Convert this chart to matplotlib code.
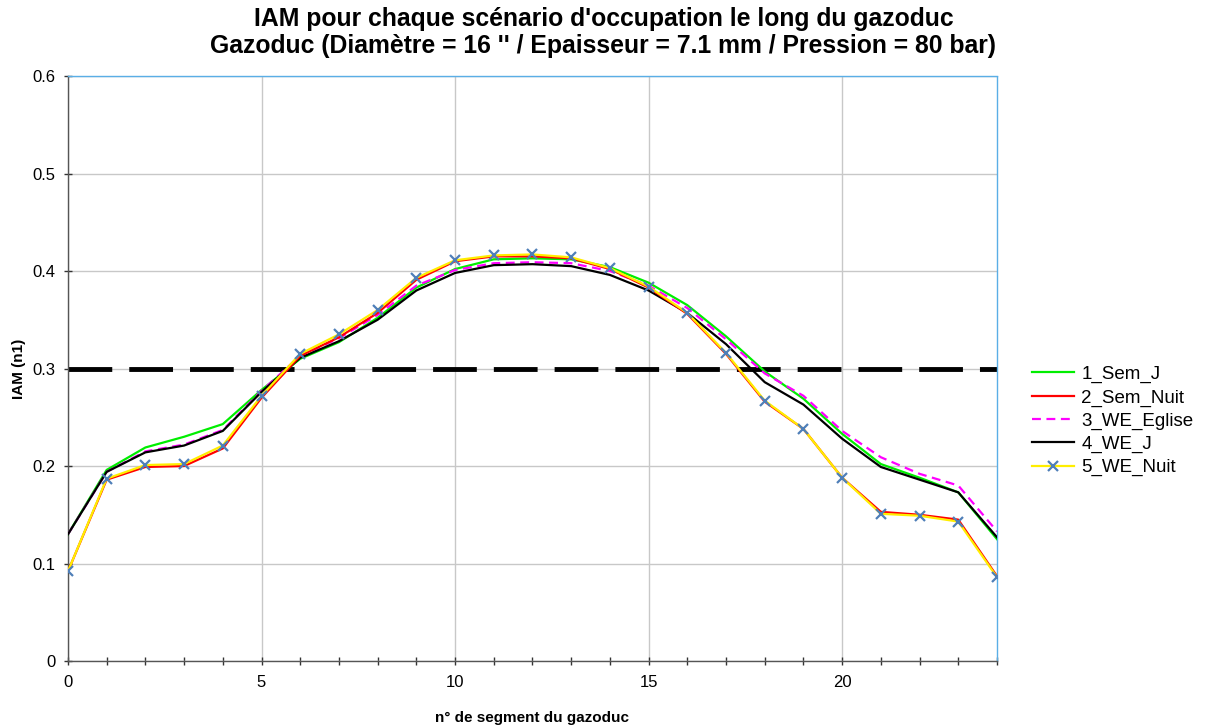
#!/usr/bin/env python3
"""IAM par scénario d'occupation le long du gazoduc."""
import matplotlib
matplotlib.use("Agg")
import matplotlib.pyplot as plt
from matplotlib.ticker import MultipleLocator, FuncFormatter

plt.rcParams['font.family'] = ['Liberation Sans', 'DejaVu Sans']

segments = list(range(25))
sem_j = [0.130, 0.196, 0.219, 0.230, 0.243, 0.278, 0.310, 0.327, 0.352, 0.383,
         0.402, 0.412, 0.413, 0.412, 0.404, 0.388, 0.365, 0.333, 0.297, 0.269,
         0.233, 0.202, 0.188, 0.173, 0.125]
sem_nuit = [0.092, 0.186, 0.199, 0.200, 0.218, 0.270, 0.313, 0.332, 0.357, 0.391,
            0.410, 0.415, 0.415, 0.413, 0.402, 0.383, 0.356, 0.315, 0.266, 0.238,
            0.188, 0.153, 0.150, 0.145, 0.087]
we_eglise = [0.130, 0.194, 0.215, 0.222, 0.237, 0.277, 0.313, 0.331, 0.355, 0.385,
             0.401, 0.408, 0.409, 0.408, 0.400, 0.385, 0.362, 0.330, 0.295, 0.272,
             0.236, 0.209, 0.192, 0.180, 0.133]
we_j = [0.130, 0.194, 0.214, 0.221, 0.236, 0.276, 0.311, 0.328, 0.350, 0.380,
        0.398, 0.406, 0.407, 0.405, 0.396, 0.380, 0.357, 0.325, 0.286, 0.263,
        0.228, 0.199, 0.186, 0.173, 0.127]
we_nuit = [0.092, 0.187, 0.201, 0.202, 0.221, 0.272, 0.315, 0.335, 0.360, 0.393,
           0.411, 0.416, 0.417, 0.414, 0.403, 0.384, 0.357, 0.316, 0.267, 0.238,
           0.188, 0.151, 0.149, 0.143, 0.086]
seuil = 0.3

fig = plt.figure(figsize=(12.07, 7.28), dpi=100)
ax = fig.add_axes([0.0563, 0.092, 0.7697, 0.8036])

ax.axhline(seuil, color='black', linewidth=3.5, dashes=(9, 3.5), zorder=2)
ax.plot(segments, sem_j, color='#00ee00', linewidth=1.6, label='1_Sem_J', zorder=3)
ax.plot(segments, sem_nuit, color='#ff0000', linewidth=1.6, label='2_Sem_Nuit', zorder=4)
ax.plot(segments, we_eglise, color='#ff00ff', linewidth=1.6, dashes=(4, 2.5),
        label='3_WE_Eglise', zorder=3)
ax.plot(segments, we_j, color='black', linewidth=1.6, label='4_WE_J', zorder=3)
ax.plot(segments, we_nuit, color='#ffee00', linewidth=1.6, marker='x',
        markersize=7, markeredgewidth=1.6, markeredgecolor='#4f7fb8',
        label='5_WE_Nuit', zorder=5)

ax.set_xlim(0, 24)
ax.set_ylim(0, 0.6)
ax.xaxis.set_major_locator(MultipleLocator(5))
ax.xaxis.set_minor_locator(MultipleLocator(1))
ax.yaxis.set_major_locator(MultipleLocator(0.1))
ax.yaxis.set_major_formatter(FuncFormatter(lambda v, p: f'{v:.1f}' if v else '0'))
ax.grid(True, which='major', color='#c8c8c8', linewidth=1)
ax.set_axisbelow(True)
ax.tick_params(axis='both', which='both', direction='inout', length=6,
               width=1, colors='#333333', labelsize=12, labelcolor='black')
ax.tick_params(axis='x', which='both', pad=7)
ax.tick_params(axis='y', which='both', pad=6)

for side in ['left', 'bottom']:
    ax.spines[side].set_color('#555555')
    ax.spines[side].set_linewidth(1)
for side in ['top', 'right']:
    ax.spines[side].set_color('#5aaee6')
    ax.spines[side].set_linestyle((0, (1, 1)))
    ax.spines[side].set_linewidth(1)

ax.set_xlabel("n° de segment du gazoduc", fontsize=11, fontweight='bold')
ax.set_ylabel("IAM (n1)", fontsize=11, fontweight='bold')
ax.xaxis.set_label_coords(0.5, -0.086)
ax.yaxis.set_label_coords(-0.045, 0.5)
fig.suptitle("IAM pour chaque scénario d'occupation le long du gazoduc\n"
             "Gazoduc (Diamètre = 16 '' / Epaisseur = 7.1 mm / Pression = 80 bar)",
             fontsize=17.8, fontweight='bold', y=0.99, linespacing=1.15)

ax.legend(loc='center left', bbox_to_anchor=(1.02, 0.41), frameon=False,
          fontsize=13.5, handlelength=2.2, handletextpad=0.4, labelspacing=0.32)

plt.savefig('out.png', dpi=100)
plt.close()
